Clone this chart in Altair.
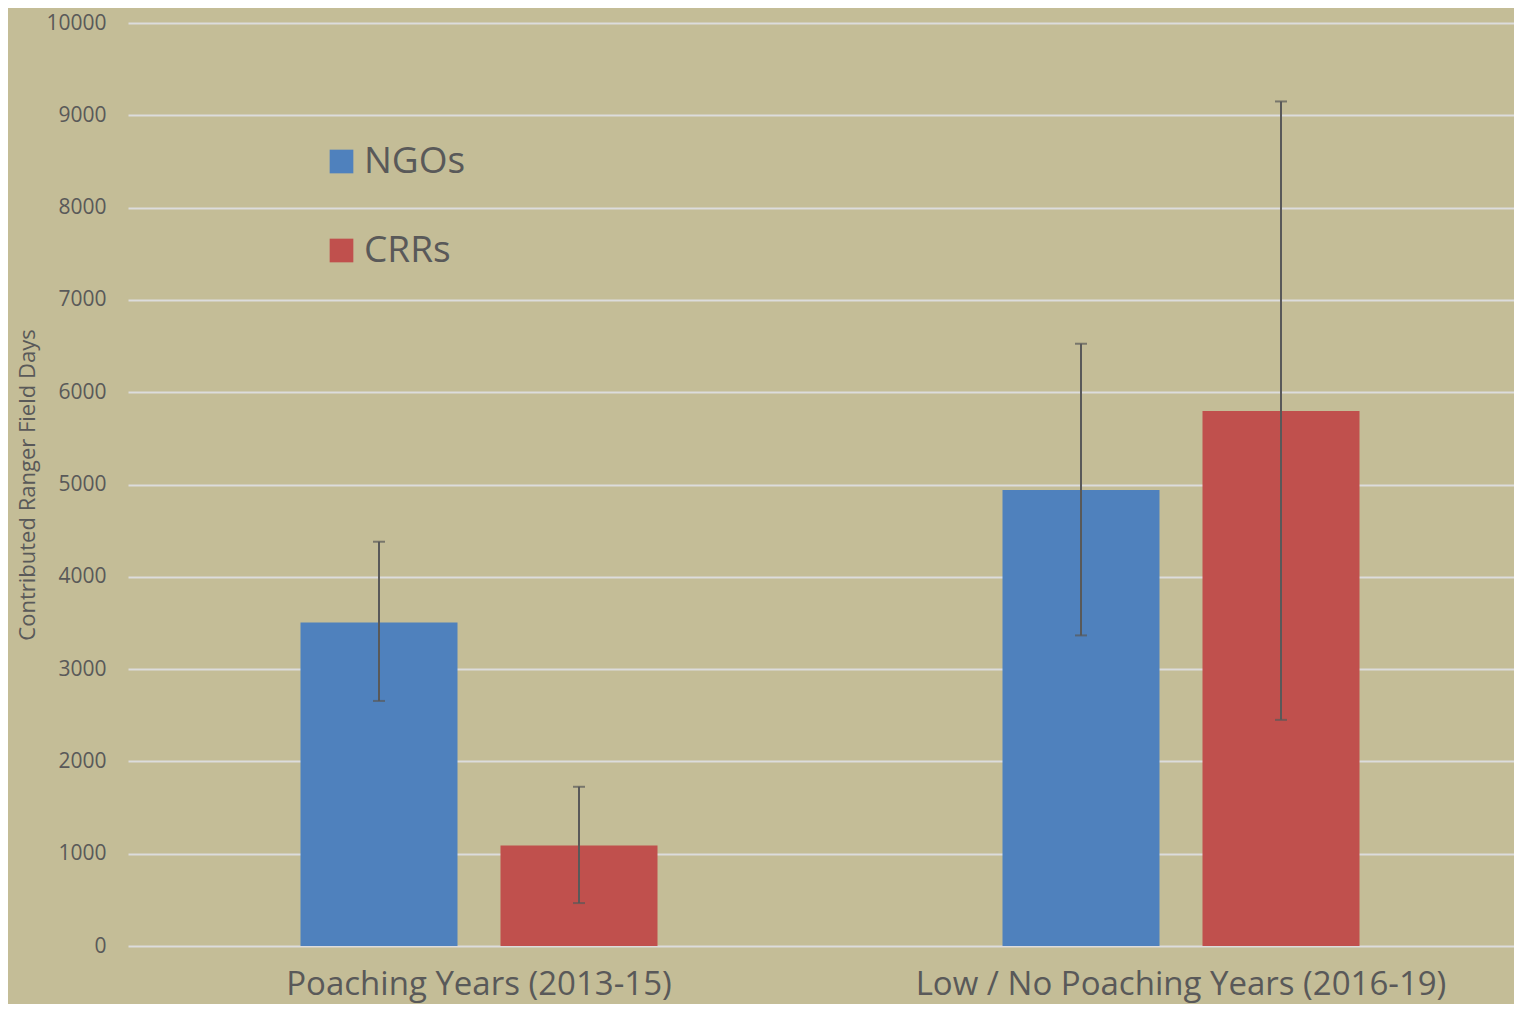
import altair as alt
import pandas as pd

categories = ["Poaching Years (2013-15)", "Poaching Years (2013-15)",
              "Low / No Poaching Years (2016-19)", "Low / No Poaching Years (2016-19)"]
groups = ["NGOs", "CRRs", "NGOs", "CRRs"]
means = [3505, 1090, 4940, 5795]
err_low = [2655, 465, 3365, 2450]
err_high = [4380, 1725, 6525, 9150]

df = pd.DataFrame({"cat": categories, "grp": groups, "mean": means,
                   "lo": err_low, "hi": err_high})

cat_order = ["Poaching Years (2013-15)", "Low / No Poaching Years (2016-19)"]
grp_order = ["NGOs", "CRRs"]
FONT = "Open Sans"
TXT = "#595959"

x_scale = alt.Scale(range=[0, 1404], paddingInner=0, paddingOuter=0)
x_enc = alt.X("cat:N", sort=cat_order, title=None, scale=x_scale,
              axis=alt.Axis(labelAngle=0, labelFontSize=33, labelFont=FONT,
                            labelColor=TXT, domain=False, ticks=False,
                            labelPadding=22, grid=False, labelLimit=0))
xoff = alt.XOffset("grp:N", sort=grp_order,
                   scale=alt.Scale(paddingInner=0.215, paddingOuter=0.8625))

bars = alt.Chart(df).mark_bar().encode(
    x=x_enc,
    xOffset=xoff,
    y=alt.Y("mean:Q", title="Contributed Ranger Field Days",
            scale=alt.Scale(domain=[0, 10000], nice=False),
            axis=alt.Axis(values=list(range(0, 10001, 1000)), format="d",
                          labelFontSize=21, labelFont=FONT, labelColor=TXT,
                          titleFont=FONT, titleFontSize=22, titleColor=TXT,
                          titleFontWeight="normal", domain=False, ticks=False,
                          labelPadding=22, gridColor="#DCDCDC", gridWidth=2,
                          titlePadding=6)),
    color=alt.Color("grp:N", sort=grp_order,
                    scale=alt.Scale(domain=grp_order, range=["#4F81BD", "#C0504D"]),
                    legend=alt.Legend(title=None, orient="none", legendX=195,
                                      legendY=120, symbolType="square",
                                      symbolSize=560, symbolStrokeWidth=0,
                                      labelFontSize=37, labelFont=FONT,
                                      labelColor=TXT, rowPadding=51,
                                      symbolOpacity=1, labelOffset=4)),
)

x_plain = alt.X("cat:N", sort=cat_order, scale=x_scale)
rules = alt.Chart(df).mark_rule(color="#595959", strokeWidth=2).encode(
    x=x_plain, xOffset=xoff, y="lo:Q", y2="hi:Q")
cap_lo = alt.Chart(df).mark_tick(color="#595959", size=12, thickness=2).encode(
    x=x_plain, xOffset=xoff, y="lo:Q")
cap_hi = alt.Chart(df).mark_tick(color="#595959", size=12, thickness=2).encode(
    x=x_plain, xOffset=xoff, y="hi:Q")

chart = alt.layer(bars, rules, cap_lo, cap_hi).properties(
    width=1386, height=923,
    autosize=alt.AutoSizeParams(type="none"),
    padding={"left": 120, "top": 15, "right": 0, "bottom": 58},
    background="#C4BD97",
).configure_view(stroke=None)

chart.save("out.html", embed_options={"renderer": "svg", "actions": False})
